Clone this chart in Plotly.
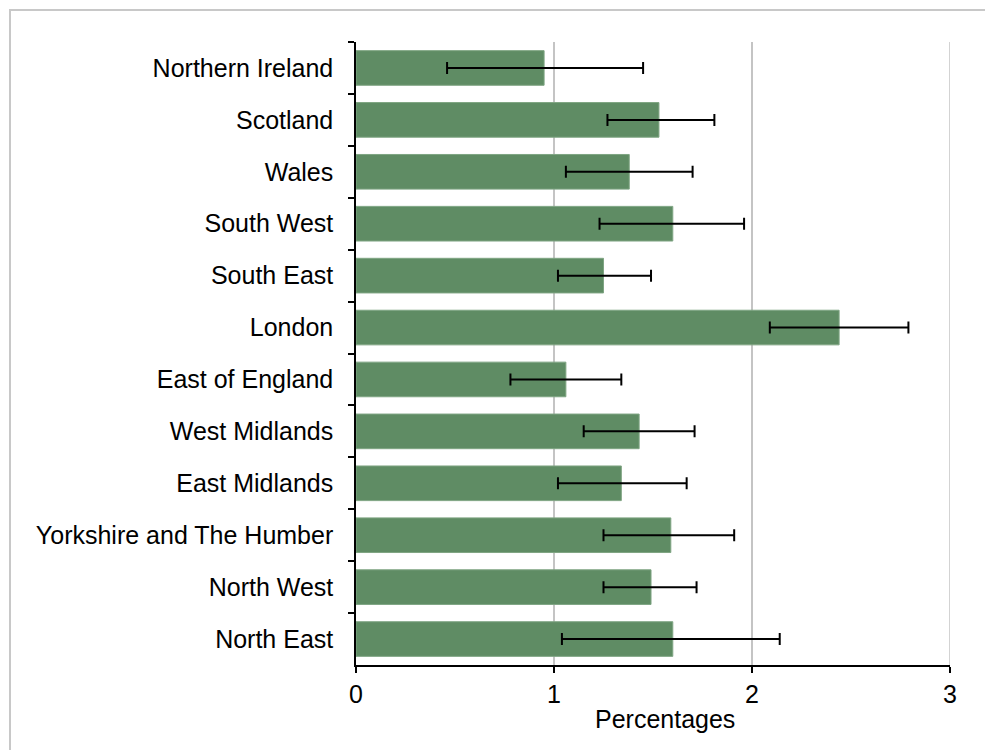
import plotly.graph_objects as go

regions = ["Northern Ireland", "Scotland", "Wales", "South West", "South East",
           "London", "East of England", "West Midlands", "East Midlands",
           "Yorkshire and The Humber", "North West", "North East"]
values = [0.95, 1.53, 1.38, 1.60, 1.25, 2.44, 1.06, 1.43, 1.34, 1.59, 1.49, 1.60]
ci_low = [0.46, 1.27, 1.06, 1.23, 1.02, 2.09, 0.78, 1.15, 1.02, 1.25, 1.25, 1.04]
ci_high = [1.45, 1.81, 1.70, 1.96, 1.49, 2.79, 1.34, 1.71, 1.67, 1.91, 1.72, 2.14]
x_ticks = [0, 1, 2, 3]

err_plus = [h - v for h, v in zip(ci_high, values)]
err_minus = [v - l for v, l in zip(values, ci_low)]

FONT = "Liberation Sans, Arial, sans-serif"

fig = go.Figure(go.Bar(
    x=values, y=regions, orientation="h",
    marker=dict(color="#5f8c64", line=dict(color="#7fa583", width=1)),
    error_x=dict(type="data", symmetric=False, array=err_plus, arrayminus=err_minus,
                 color="#000000", thickness=2, width=6),
    hoverinfo="x+y",
))

fig.update_layout(
    width=985, height=742,
    margin=dict(l=348, r=43, t=34, b=85),
    paper_bgcolor="white", plot_bgcolor="white",
    bargap=0.333,
    showlegend=False,
    font=dict(family=FONT, size=25, color="#000000"),
    xaxis=dict(range=[0, 3], tickvals=x_ticks, ticktext=[str(t) for t in x_ticks],
               showgrid=True, gridcolor="#c4c4c4", gridwidth=1.5,
               showline=True, linecolor="#000000", linewidth=1.5,
               ticks="outside", ticklen=6, tickcolor="#000000", tickwidth=1.5,
               zeroline=False, tickfont=dict(size=25)),
    yaxis=dict(autorange="reversed", showline=True, linecolor="#000000", linewidth=1.5,
               ticks="outside", ticklen=6, tickcolor="#000000", tickwidth=1.5,
               tickson="boundaries", showgrid=False, ticklabelstandoff=16,
               tickfont=dict(size=25)),
    annotations=[dict(text="Percentages", xref="paper", yref="paper",
                      x=0.52, y=-0.086, xanchor="center", yanchor="middle",
                      showarrow=False, font=dict(size=25))],
    shapes=[
        dict(type="line", xref="x", yref="paper", x0=3, x1=3, y0=0, y1=1,
             line=dict(color="#c4c4c4", width=1.5), layer="below"),
        dict(type="rect", xref="paper", yref="paper",
             x0=-0.5825, y0=-2, x1=2, y1=1.0514,
             line=dict(color="#c8c8c8", width=2), layer="below"),
    ],
)

fig.write_html("out.html")
